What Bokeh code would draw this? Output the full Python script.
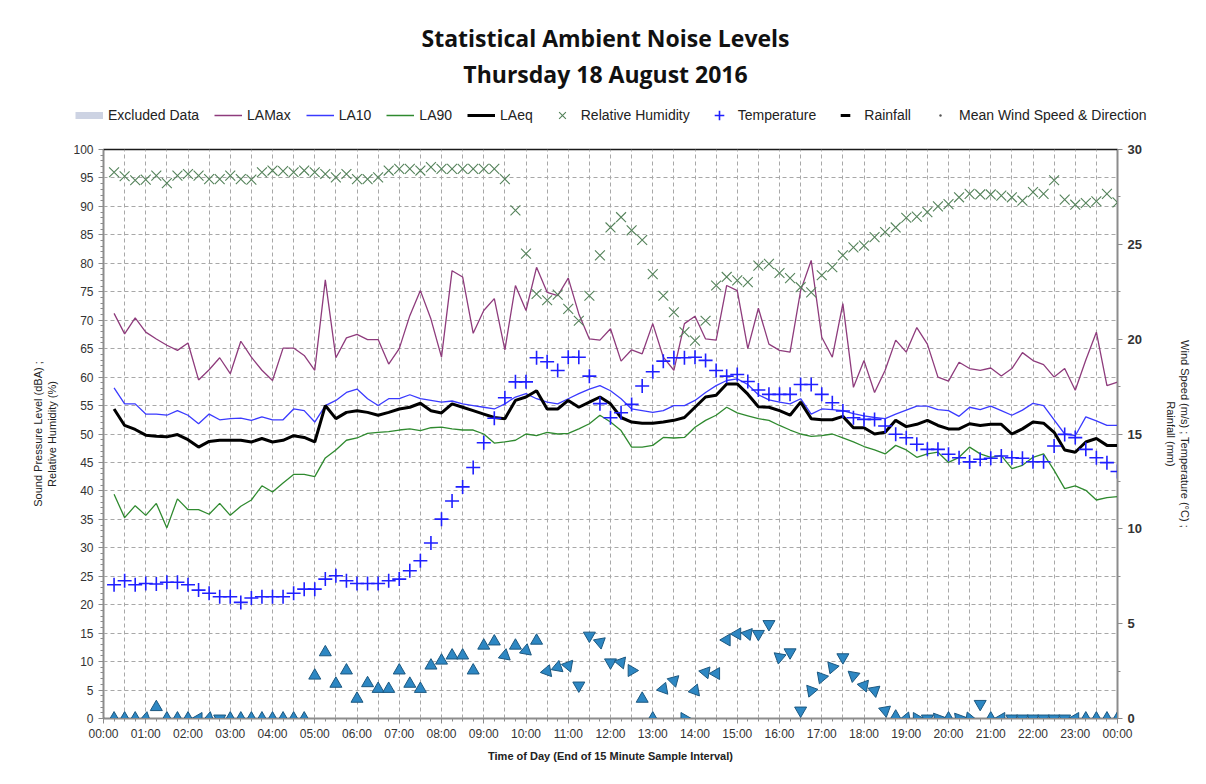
import math
from bokeh.plotting import figure
from bokeh.models import (Range1d, LinearAxis, FixedTicker, Legend, LegendItem, Label)
from bokeh.embed import file_html
from bokeh.resources import INLINE

NaN = float("nan")

# ---- data: 96 fifteen-minute intervals (end of interval, hours) ----
hours = [0.25 * i for i in range(1, 97)]

lamax = [71.2, 67.6, 70.4, 67.9, 66.7, 65.6, 64.7, 66.0, 59.5, 61.3, 63.4, 60.6, 66.3, 63.5, 61.2, 59.4,
         65.1, 65.1, 63.8, 61.2, 77.1, 63.4, 66.9, 67.5, 66.6, 66.6, 62.3, 65.0, 70.8, 75.2, 70.2, 63.5,
         78.7, 77.6, 67.7, 71.7, 73.8, 64.8, 76.1, 71.7, 79.3, 74.9, 74.3, 77.4, 71.1, 66.7, 66.5, 68.5,
         62.8, 64.8, 64.1, 69.4, 63.5, 61.2, 69.4, 70.7, 66.7, 66.5, 76.1, 75.2, 65.0, 72.1, 65.8, 64.7,
         64.4, 75.2, 80.5, 67.0, 63.5, 72.9, 58.2, 62.9, 57.3, 61.2, 66.5, 64.4, 68.7, 65.8, 60.0, 59.3,
         62.6, 61.5, 61.2, 61.6, 60.2, 61.5, 64.3, 62.9, 62.2, 60.0, 61.5, 57.7, 63.0, 67.9, 58.5, 59.1]

la10 = [58.1, 55.3, 55.3, 53.5, 53.5, 53.3, 54.1, 53.3, 51.8, 53.5, 52.5, 52.7, 52.8, 52.4, 53.0, 52.5,
        52.5, 54.4, 54.1, 52.1, 55.0, 55.9, 57.3, 57.9, 56.2, 55.0, 56.2, 56.2, 56.9, 56.2, 55.9, 55.6,
        55.8, 55.3, 55.0, 54.7, 54.4, 55.3, 56.5, 57.1, 56.2, 55.6, 55.3, 56.2, 57.1, 57.9, 58.5, 57.6,
        56.2, 54.4, 54.1, 53.8, 54.1, 55.0, 55.0, 55.9, 57.3, 58.5, 59.4, 59.7, 58.7, 56.9, 56.0, 55.6,
        55.3, 56.2, 53.5, 54.4, 54.3, 54.1, 53.6, 53.2, 52.9, 52.7, 53.5, 54.2, 54.9, 54.9, 54.3, 54.1,
        53.1, 54.7, 54.3, 54.9, 54.1, 53.3, 54.2, 55.4, 55.0, 52.5, 50.0, 49.7, 53.0, 52.3, 51.5, 51.5]

la90 = [39.4, 35.3, 37.4, 35.7, 37.8, 33.5, 38.6, 36.7, 36.7, 35.9, 37.8, 35.7, 37.3, 38.4, 40.9, 39.8,
        41.4, 42.9, 42.9, 42.5, 45.8, 47.2, 48.9, 49.3, 50.1, 50.3, 50.4, 50.7, 50.9, 50.6, 51.1, 51.2,
        50.9, 50.7, 50.7, 50.0, 48.4, 48.6, 48.9, 50.0, 49.7, 50.3, 50.0, 50.1, 50.9, 51.8, 53.3, 52.1,
        50.6, 47.7, 47.7, 48.0, 49.4, 49.3, 49.4, 51.2, 52.4, 53.3, 54.7, 53.7, 53.2, 52.7, 52.4, 51.5,
        50.7, 50.0, 49.6, 49.7, 50.0, 49.3, 48.6, 47.8, 47.2, 46.5, 48.0, 47.2, 45.9, 46.5, 46.8, 45.0,
        45.9, 47.7, 46.5, 45.9, 46.2, 43.9, 44.5, 45.9, 46.5, 43.6, 40.4, 40.9, 40.1, 38.4, 38.8, 39.0]

laeq = [54.4, 51.5, 50.8, 49.8, 49.6, 49.5, 49.9, 49.0, 47.7, 48.7, 48.9, 48.9, 48.9, 48.6, 49.2, 48.6,
        48.9, 49.7, 49.4, 48.6, 55.0, 52.7, 53.8, 54.1, 53.8, 53.3, 53.8, 54.4, 54.7, 55.4, 54.1, 53.7,
        55.3, 54.7, 54.1, 53.5, 52.9, 52.7, 55.9, 56.5, 57.6, 54.4, 54.4, 55.9, 54.7, 55.6, 56.5, 55.3,
        52.9, 52.1, 51.9, 51.9, 52.1, 52.4, 52.9, 54.7, 56.5, 56.8, 58.8, 58.8, 57.0, 54.8, 54.7, 54.1,
        53.3, 55.6, 52.7, 52.5, 52.5, 53.1, 51.1, 51.1, 50.0, 50.3, 52.4, 51.3, 51.7, 52.4, 51.5, 50.9,
        50.9, 51.8, 51.5, 51.7, 51.7, 50.0, 50.9, 52.1, 51.9, 50.3, 47.2, 46.8, 48.6, 49.2, 48.0, 48.0]

humidity = [96.0, 95.3, 94.6, 94.7, 95.4, 94.1, 95.4, 95.7, 95.4, 94.8, 94.8, 95.4, 94.8, 94.7, 96.0, 96.3,
            96.2, 96.0, 96.3, 96.0, 95.7, 95.1, 95.7, 94.8, 94.8, 95.1, 96.3, 96.6, 96.6, 96.3, 96.9, 96.6,
            96.6, 96.6, 96.6, 96.6, 96.6, 94.8, 89.3, 81.7, 74.6, 73.5, 74.5, 72.0, 69.9, 74.3, 81.4, 86.3,
            88.1, 85.8, 84.1, 78.1, 74.3, 71.4, 67.9, 66.4, 69.9, 76.1, 77.6, 77.0, 76.7, 79.6, 79.9, 78.3,
            77.4, 75.8, 74.9, 77.9, 79.3, 81.4, 82.8, 83.1, 84.6, 85.5, 86.3, 88.0, 88.2, 89.0, 90.0, 90.4,
            91.6, 92.2, 92.1, 92.1, 91.9, 91.6, 91.0, 92.5, 92.2, 94.6, 91.2, 90.3, 90.6, 90.9, 92.2, 90.7]

temperature = [7.05, 7.26, 7.05, 7.12, 7.09, 7.18, 7.18, 7.05, 6.77, 6.60, 6.42, 6.42, 6.12, 6.35, 6.42, 6.42,
               6.42, 6.60, 6.82, 6.82, 7.35, 7.53, 7.26, 7.12, 7.12, 7.12, 7.26, 7.35, 7.79, 8.32, 9.25, 10.51,
               11.47, 12.21, 13.23, 14.54, 15.83, 16.91, 17.75, 17.75, 19.02, 18.81, 18.35, 19.05, 19.05, 18.05, 16.6, 15.86,
               16.12, 16.56, 17.53, 18.28, 18.84, 19.02, 19.02, 19.05, 18.88, 18.35, 18.05, 18.14, 17.77, 17.32, 17.09, 17.09,
               17.09, 17.61, 17.61, 17.09, 16.65, 16.21, 15.86, 15.77, 15.77, 15.42, 14.99, 14.8, 14.46, 14.19, 14.19, 13.93,
               13.75, 13.53, 13.67, 13.72, 13.84, 13.75, 13.72, 13.54, 13.54, 14.37, 14.98, 14.81, 14.19, 13.75, 13.49, 13.02]

wind_speed = [0, 0, 0, 0, 0.6, 0, 0, 0, 0, 0, 0, 0, 0, 0, 0, 0,
              0, 0, 0, 2.26, 3.49, 1.83, 2.53, 1.04, 1.86, 1.56, 1.56, 2.53, 1.83, 1.56, 2.79, 3.05,
              3.32, 3.32, 2.53, 3.84, 4.06, 3.32, 3.84, 3.58, 4.1, 2.49, 2.7, 2.79, 1.74, 4.37, 4.02, 2.96,
              2.96, 2.53, 1.04, 0.0, 1.56, 2.0, 0.0, 1.47, 2.44, 2.37, 4.14, 4.46, 4.46, 4.46, 4.98, 3.23,
              3.49, 0.42, 1.47, 2.17, 2.7, 3.23, 2.26, 1.74, 1.47, 0.42, 0.1, 0, 0, 0, 0, 0,
              0, 0, 0.77, 0, 0, 0, 0, 0, 0, 0, 0, 0, 0, 0, 0, 0]

# direction the arrow points, degrees clockwise from up
wind_dir = [0, 0, 0, 250, 0, 0, 0, 0, 270, 250, 300, 0, 0, 0, 0, 0,
            0, 0, 0, 0, 0, 0, 0, 0, 0, 0, 0, 0, 0, 0, 0, 0,
            0, 0, 0, 0, 0, 250, 0, 10, 0, 260, 10, 280, 180, 300, 290, 300,
            280, 330, 0, 0, 20, 45, 90, 20, 280, 270, 30, 30, 160, 180, 180, 190,
            180, 180, 200, 200, 200, 300, 310, 160, 170, 290, 0, 260, 90, 180, 200, 120,
            200, 220, 180, 240, 30, 180, 180, 180, 180, 180, 180, 270, 0, 0, 0, 0]

# no rainfall and no excluded periods recorded on this day
rainfall = [NaN] * 96
excluded = [NaN] * 96

hour_ticks = list(range(25))
hour_labels = ["%02d:00" % (h % 24) for h in hour_ticks]

title_lines = ["Statistical Ambient Noise Levels", "Thursday 18 August 2016"]
legend_labels = ["Excluded Data", "LAMax", "LA10", "LA90", "LAeq", "Relative Humidity",
                 "Temperature", "Rainfall", "Mean Wind Speed & Direction"]

C_EXCL, C_MAX, C_10, C_90, C_EQ = "#cdd3e3", "#8e3b7c", "#3a3aff", "#2f8a2f", "black"
C_RH, C_T = "#54825a", "#1f1fff"
C_WFILL, C_WLINE = "#2d87c3", "#1c5880"

W = 1200
HH = 141                    # header (titles + legend)
H = 639                     # main chart
BL, BR, BT, BB = 103, 83, 8, 62

# ---------------- header figure ----------------
hdr = figure(width=W, height=HH, x_range=Range1d(0, W), y_range=Range1d(HH, 0),
             x_axis_type=None, y_axis_type=None, output_backend="svg", toolbar_location=None,
             min_border=0, outline_line_color=None)
hdr.grid.visible = False
for txt, yy in zip(title_lines, [37, 73]):
    hdr.add_layout(Label(x=605, y=yy, text=txt, text_align="center", text_baseline="middle",
                         text_font="Open Sans", text_font_style="bold", text_font_size="23px",
                         text_color="#111111"))

# legend proxies (series styles; no data of their own)
lx, ly = hours, [NaN] * 96
h_excl = hdr.line(lx, ly, line_color=C_EXCL, line_width=7)
h_max = hdr.line(lx, ly, line_color=C_MAX, line_width=1.5)
h_10 = hdr.line(lx, ly, line_color=C_10, line_width=1.5)
h_90 = hdr.line(lx, ly, line_color=C_90, line_width=1.5)
h_eq = hdr.line(lx, ly, line_color=C_EQ, line_width=3)
h_rh = hdr.scatter(lx, ly, marker="x", size=14, line_color=C_RH, line_width=1.1)
h_t = hdr.scatter(lx, ly, marker="cross", size=14, line_color=C_T, line_width=1.6)
h_rain = hdr.scatter(lx, ly, marker="dash", size=7, line_color="black", line_width=3)
h_wind = hdr.scatter(lx, ly, marker="dot", size=8, fill_color="#555555", line_color="#555555")
hrs = [h_excl, h_max, h_10, h_90, h_eq, h_rh, h_t, h_rain, h_wind]

legend = Legend(items=[LegendItem(label=lab, renderers=[r]) for lab, r in zip(legend_labels, hrs)],
                orientation="horizontal", location=(75, 14), glyph_width=28, glyph_height=24,
                label_height=16, label_standoff=5, spacing=15, padding=0, margin=0,
                label_text_font="Liberation Sans", label_text_font_size="14px",
                label_text_color="#222222", border_line_color=None, background_fill_alpha=0)
hdr.add_layout(legend)

# ---------------- main chart ----------------
p = figure(width=W, height=H, x_range=Range1d(0, 24), y_range=Range1d(0, 100),
           output_backend="svg", toolbar_location=None,
           min_border_left=BL, min_border_right=BR, min_border_top=BT, min_border_bottom=BB)
p.extra_y_ranges = {"r": Range1d(0, 30)}
p.background_fill_color = "white"
p.border_fill_color = "white"
p.outline_line_color = "#1a1a1a"
p.outline_line_width = 1.5

p.xaxis.ticker = FixedTicker(ticks=hour_ticks, minor_ticks=[0.25 * k for k in range(97)])
p.xaxis.major_label_overrides = {h: lab for h, lab in zip(hour_ticks, hour_labels)}
p.xaxis.axis_label = "Time of Day (End of 15 Minute Sample Interval)"
p.yaxis.ticker = FixedTicker(ticks=list(range(0, 101, 5)), minor_ticks=list(range(0, 101)))
p.yaxis.axis_label = "Sound Pressure Level (dBA) ;\nRelative Humidity (%)"

raxis = LinearAxis(y_range_name="r", ticker=FixedTicker(ticks=list(range(0, 31, 5)),
                                                        minor_ticks=[k * 2.5 for k in range(13)]),
                   axis_label="Wind Speed (m/s) ; Temperature (\u00b0C) ;\nRainfall (mm)")
p.add_layout(raxis, "right")

for ax in [p.xaxis[0], p.yaxis[0], raxis]:
    ax.axis_line_color = "#8c8c8c"
    ax.major_tick_line_color = "#8c8c8c"
    ax.minor_tick_line_color = "#8c8c8c"
    ax.major_label_text_color = "#333333"
    ax.major_label_text_font = "Liberation Sans"
    ax.major_label_text_font_size = "12px"
    ax.axis_label_text_font = "Liberation Sans"
    ax.axis_label_text_font_size = "11px"
    ax.axis_label_text_font_style = "normal"
    ax.axis_label_text_color = "#222222"
    ax.major_tick_out = 5
    ax.major_tick_in = 0
    ax.minor_tick_out = 3
    ax.minor_tick_in = 0
p.xaxis.axis_label_text_font_style = "bold"
p.xaxis.axis_label_standoff = 6
p.xaxis.major_label_standoff = 3
raxis.major_label_text_font_style = "bold"
raxis.major_label_text_font_size = "13px"
p.yaxis.axis_label_standoff = 12
raxis.axis_label_standoff = 20

p.xgrid.ticker = FixedTicker(ticks=[0.5 * k for k in range(49)])
for g in [p.xgrid[0], p.ygrid[0]]:
    g.grid_line_color = "#a8a8a8"
    g.grid_line_dash = "4 3"
    g.grid_line_width = 1

p.line(hours, excluded, line_color=C_EXCL, line_width=7)
p.line(hours, lamax, line_color=C_MAX, line_width=1.3)
p.line(hours, la10, line_color=C_10, line_width=1.3)
p.line(hours, la90, line_color=C_90, line_width=1.3)
p.line(hours, laeq, line_color=C_EQ, line_width=3)
p.scatter(hours, humidity, marker="x", size=14, line_color=C_RH, line_width=1.1)
p.scatter(hours, temperature, marker="cross", size=14, line_color=C_T, line_width=1.6, y_range_name="r")
p.scatter(hours, rainfall, marker="dash", size=7, line_color="black", line_width=3, y_range_name="r")
p.scatter(hours, wind_speed, marker="triangle", size=12,
          angle=[-math.radians(d) for d in wind_dir],
          fill_color=C_WFILL, line_color=C_WLINE, line_width=1, y_range_name="r")

open("out.html", "w").write(file_html([hdr, p], INLINE))
